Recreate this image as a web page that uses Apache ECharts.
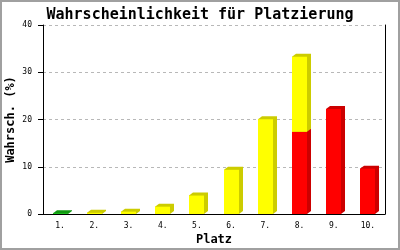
<!DOCTYPE html>
<html>
<head>
<meta charset="utf-8">
<script src="https://cdn.jsdelivr.net/npm/echarts@6/dist/echarts.min.js"></script>
<style>
html,body{margin:0;padding:0;background:#fff;}
#c{width:400px;height:250px;}
</style>
</head>
<body>
<div id="c"></div>
<script>
var categories = ['1.', '2.', '3.', '4.', '5.', '6.', '7.', '8.', '9.', '10.'];
var greenValues  = [0.15, 0, 0, 0, 0, 0, 0, 0, 0, 0];
var yellowValues = [0, 0.25, 0.5, 1.55, 3.9, 9.35, 20.05, 15.9, 0, 0];
var redValues    = [0, 0, 0, 0, 0, 0, 0, 17.4, 22.2, 9.6];
var yTicks = [0, 10, 20, 30, 40];

var colors = {
  red: ['#ff0000', '#cc0000'],
  yellow: ['#ffff00', '#cccc00'],
  green: ['#22cc22', '#119911']
};

function segData(vals, bases) {
  var out = [];
  for (var i = 0; i < vals.length; i++) {
    if (vals[i] > 0) {
      var b = bases ? bases[i] : 0;
      out.push([i, b, b + vals[i]]);
    }
  }
  return out;
}

function makeRender(col) {
  return function (params, api) {
    var i = api.value(0);
    var p0 = api.coord([i, api.value(1)]);
    var p1 = api.coord([i, api.value(2)]);
    var band = api.size([1, 0])[0];
    var w = Math.round(band * 0.44);
    var x0 = Math.round(p0[0] - w / 2);
    var x1 = x0 + w;
    var yb = p0[1], yt = p1[1];
    var dx = 4, dy = 3;
    return {
      type: 'group',
      children: [
        {
          type: 'polygon',
          shape: { points: [[x0, yt], [x0 + dx, yt - dy], [x1 + dx, yt - dy], [x1 + dx, yb - dy], [x1, yb], [x0, yb]] },
          style: { fill: col[1] }
        },
        {
          type: 'rect',
          shape: { x: x0, y: yt, width: w, height: yb - yt },
          style: { fill: col[0] }
        }
      ]
    };
  };
}

var mono = '"DejaVu Sans Mono", "Liberation Mono", monospace';
var chart = echarts.init(document.getElementById('c'), null, { renderer: 'canvas' });
chart.setOption({
  animation: false,
  backgroundColor: '#ffffff',
  title: {
    text: 'Wahrscheinlichkeit für Platzierung',
    left: 'center',
    top: 3,
    textStyle: { fontFamily: mono, fontWeight: 'bold', fontSize: 15, color: '#000' }
  },
  graphic: [{
    type: 'rect',
    shape: { x: 1, y: 1, width: 398, height: 248 },
    style: { fill: null, stroke: '#a0a0a0', lineWidth: 2 },
    silent: true
  }],
  grid: { left: 43, right: 15, top: 25, bottom: 36, containLabel: false, outerBoundsMode: 'none' },
  xAxis: {
    type: 'category',
    data: categories,
    boundaryGap: true,
    axisLine: { lineStyle: { color: '#000', width: 1 } },
    axisTick: { show: false },
    axisLabel: { fontFamily: mono, fontSize: 8, color: '#000', margin: 8 },
    name: 'Platz',
    nameLocation: 'middle',
    nameGap: 20,
    nameMoveOverlap: false,
    nameTextStyle: { fontFamily: mono, fontWeight: 'bold', fontSize: 12, color: '#000' }
  },
  yAxis: [{
    type: 'value',
    min: yTicks[0],
    max: yTicks[yTicks.length - 1],
    interval: 10,
    axisLine: { show: true, lineStyle: { color: '#000', width: 1 } },
    axisTick: { show: true, length: 5, lineStyle: { color: '#000' } },
    axisLabel: { fontFamily: mono, fontSize: 8, color: '#000', margin: 11 },
    splitLine: { show: true, lineStyle: { color: '#b8b8b8', type: [3, 3], width: 1 } },
    name: 'Wahrsch. (%)',
    nameLocation: 'middle',
    nameRotate: 90,
    nameGap: 26,
    nameMoveOverlap: false,
    nameTextStyle: { fontFamily: mono, fontWeight: 'bold', fontSize: 12, color: '#000' }
  }, {
    type: 'value',
    position: 'right',
    min: yTicks[0],
    max: yTicks[yTicks.length - 1],
    interval: 10,
    axisLine: { show: true, lineStyle: { color: '#000', width: 1 } },
    axisTick: { show: false },
    axisLabel: { show: false },
    splitLine: { show: false }
  }],
  series: [
    { type: 'custom', renderItem: makeRender(colors.red), data: segData(redValues), encode: { x: 0, y: [1, 2] }, clip: false },
    { type: 'custom', renderItem: makeRender(colors.yellow), data: segData(yellowValues, redValues), encode: { x: 0, y: [1, 2] }, clip: false },
    { type: 'custom', renderItem: makeRender(colors.green), data: segData(greenValues), encode: { x: 0, y: [1, 2] }, clip: false }
  ]
});
</script>
</body>
</html>
